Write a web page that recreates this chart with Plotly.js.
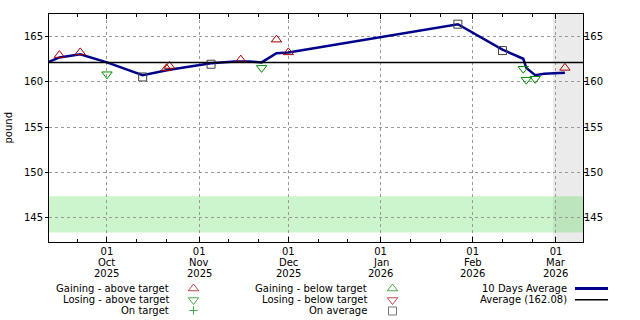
<!DOCTYPE html>
<html><head><meta charset="utf-8">
<script src="https://cdn.plot.ly/plotly-3.0.1.min.js"></script>
<style>html,body{margin:0;padding:0;background:#fff;overflow:hidden}#chart{width:640px;height:320px}#info{position:absolute;left:-9999px;top:0;font:9px monospace}</style>
</head><body><div id="chart"></div><div id="info"></div>
<script>
// ---- data ----
const avgDates = ['2025-09-11','2025-09-15','2025-09-22','2025-10-01','2025-10-13','2025-10-22','2025-11-05','2025-11-13','2025-11-18','2025-11-22','2025-11-27','2025-12-01','2026-01-27','2026-02-11','2026-02-18','2026-02-19','2026-02-22','2026-02-25','2026-03-04'];
const avgVals  = [162.1,162.65,163.0,162.1,160.7,161.3,162.0,162.2,162.2,162.1,163.1,163.2,166.3,163.5,162.5,161.5,160.7,160.85,160.97];
const gainAboveDates = ['2025-09-15','2025-09-22','2025-10-21','2025-10-22','2025-11-15','2025-11-27','2025-12-01','2026-03-04'];
const gainAboveVals  = [162.9,163.2,161.45,161.7,162.4,164.6,163.2,161.5];
const loseAboveDates = ['2025-10-01','2025-11-22','2026-02-18','2026-02-19','2026-02-22'];
const loseAboveVals  = [160.8,161.5,161.4,160.2,160.3];
const onAvgDates = ['2025-10-13','2025-11-05','2026-01-27','2026-02-11'];
const onAvgVals  = [160.5,161.9,166.3,163.4];
const averageVal = 162.08;
const targetLow = 143.4, targetHigh = 147.4;
const futureStart = '2026-02-28';
const xRange = ['2025-09-11 12:00','2026-03-10 02:00'];
const yRange = [142.36, 167.42];
const tickDates  = ['2025-10-01','2025-11-01','2025-12-01','2026-01-01','2026-02-01','2026-03-01'];
const tickDays   = ['01','01','01','01','01','01'];
const tickMonths = ['Oct','Nov','Dec','Jan','Feb','Mar'];
const tickYears  = ['2025','2025','2025','2026','2026','2026'];
const minorDates = ['2025-09-21','2025-10-11','2025-10-21','2025-11-11','2025-11-21','2025-12-11','2025-12-21','2026-01-11','2026-01-21','2026-02-11','2026-02-21'];
const legendCol1 = ['Gaining - above target','Losing - above target','On target'];
const legendCol2 = ['Gaining - below target','Losing - below target','On average'];
const legendCol3 = ['10 Days Average','Average (162.08)'];

// ---- layout helpers (pixels of the 640x320 figure) ----
const W=640, H=320, L=49, R=583, T=14, B=242;
const fx = x => x/W;
const fy = y => 1 - y/H;
const FONT = 'DejaVu Sans';
const RED = '#a00000', GREEN = '#008c00', GRAY = '#404040', NAVY = '#00008b';

const traces = [
  {x: avgDates, y: avgVals, type:'scatter', mode:'lines', line:{color:NAVY, width:2.5}, hoverinfo:'skip'},
  {x: xRange, y: [averageVal, averageVal], type:'scatter', mode:'lines', yaxis:'y2', line:{color:'#000', width:1.5}, hoverinfo:'skip'},
  {x: gainAboveDates, y: gainAboveVals, type:'scatter', mode:'markers', marker:{symbol:'triangle-up-open', size:9, color:RED, line:{width:1, color:RED}}},
  {x: loseAboveDates, y: loseAboveVals, type:'scatter', mode:'markers', marker:{symbol:'triangle-down-open', size:9, color:GREEN, line:{width:1, color:GREEN}}},
  {x: onAvgDates, y: onAvgVals, type:'scatter', mode:'markers', marker:{symbol:'square-open', size:8, color:GRAY, line:{width:1, color:GRAY}}},
  // legend symbols on a full-figure pixel subplot
  {x:[193.5,193.5,193.5,392.5,392.5,392.5], y:[288.5,300,310.5,288.5,300,311],
   xaxis:'x3', yaxis:'y3', type:'scatter', mode:'markers', cliponaxis:false, hoverinfo:'skip',
   marker:{symbol:['triangle-up-open','triangle-down-open','cross-thin-open','triangle-up-open','triangle-down-open','square-open'],
           size:[9,9,6,9,9,8], color:[RED,GREEN,GREEN,GREEN,RED,GRAY],
           line:{width:1, color:[RED,GREEN,GREEN,GREEN,RED,GRAY]}}}
];

const annotations = [];
const rows = [288.5, 299.8, 310.5];
legendCol1.forEach((t,i)=>annotations.push({text:t, x:fx(171), y:fy(rows[i]), xref:'paper', yref:'paper', xanchor:'right', yanchor:'middle', showarrow:false}));
legendCol2.forEach((t,i)=>annotations.push({text:t, x:fx(369), y:fy(rows[i]), xref:'paper', yref:'paper', xanchor:'right', yanchor:'middle', showarrow:false}));
legendCol3.forEach((t,i)=>annotations.push({text:t, x:fx(569), y:fy(rows[i]), xref:'paper', yref:'paper', xanchor:'right', yanchor:'middle', showarrow:false}));
tickDates.forEach((d,i)=>{
  annotations.push({text:tickMonths[i], x:d, xref:'x', y:fy(262), yref:'paper', xanchor:'center', yanchor:'middle', showarrow:false});
  annotations.push({text:tickYears[i], x:d, xref:'x', y:fy(273.5), yref:'paper', xanchor:'center', yanchor:'middle', showarrow:false});
});
annotations.push({text:'pound', x:fx(8), y:fy(127.5), xref:'paper', yref:'paper', xanchor:'center', yanchor:'middle', textangle:-90, showarrow:false});

const shapes = [
  {type:'rect', xref:'x', yref:'y domain', x0:futureStart, x1:xRange[1], y0:0, y1:1, fillcolor:'#ebebeb', line:{width:0}, layer:'below'},
  {type:'rect', xref:'x domain', yref:'y', x0:0, x1:1, y0:targetLow, y1:targetHigh, fillcolor:'rgba(0,205,0,0.2)', line:{width:0}, layer:'below'},
  {type:'line', xref:'paper', yref:'paper', x0:fx(575), x1:fx(608), y0:fy(288.5), y1:fy(288.5), line:{color:NAVY, width:3}},
  {type:'line', xref:'paper', yref:'paper', x0:fx(575), x1:fx(608), y0:fy(299.8), y1:fy(299.8), line:{color:'#000', width:1.5}}
];

const layout = {
  width:W, height:H,
  margin:{l:0, r:0, t:0, b:0, pad:0},
  paper_bgcolor:'#fff', plot_bgcolor:'rgba(0,0,0,0)',
  font:{family:FONT, size:10, color:'#000'},
  showlegend:false,
  xaxis:{domain:[L/W, R/W], anchor:'y', type:'date', range:xRange, tickmode:'array', tickvals:tickDates, ticktext:tickDays,
         ticks:'inside', ticklen:5, tickcolor:'#000', showline:true, linecolor:'#000', linewidth:1, mirror:'ticks',
         showgrid:true, gridcolor:'#999', griddash:'dot', gridwidth:1, zeroline:false,
         minor:{tickmode:'array', tickvals:minorDates, ticks:'inside', ticklen:3, tickcolor:'#000', showgrid:false},
         tickfont:{family:FONT, size:10}},
  yaxis:{domain:[1-B/H, 1-T/H], anchor:'x', range:yRange, tickmode:'linear', tick0:0, dtick:5, ticks:'outside', ticklen:3, tickcolor:'#000',
         showline:true, linecolor:'#000', linewidth:1, mirror:'ticks',
         showgrid:true, gridcolor:'#999', griddash:'dot', gridwidth:1, zeroline:false, tickfont:{family:FONT, size:10}},
  yaxis2:{range:yRange, overlaying:'y', side:'right', anchor:'x', tickmode:'linear', tick0:0, dtick:5, ticks:'', showgrid:false, zeroline:false, showline:false, tickfont:{family:FONT, size:10}},
  xaxis3:{domain:[0,1], anchor:'y3', range:[0,W], visible:false, fixedrange:true},
  yaxis3:{domain:[0,1], anchor:'x3', range:[H,0], visible:false, fixedrange:true},
  shapes:shapes, annotations:annotations
};
Plotly.newPlot('chart', traces, layout, {staticPlot:true, displayModeBar:false}).then(()=>{
  // force a layout pass over the annotations (mirrors the run in which every label was drawn)
  const out=[];
  document.querySelectorAll('.annotation').forEach(e=>{const r=e.getBoundingClientRect(); out.push(e.textContent+' '+Math.round(r.x)+','+Math.round(r.y));});
  document.getElementById('info').textContent=out.join(' | ');
});
</script></body></html>
